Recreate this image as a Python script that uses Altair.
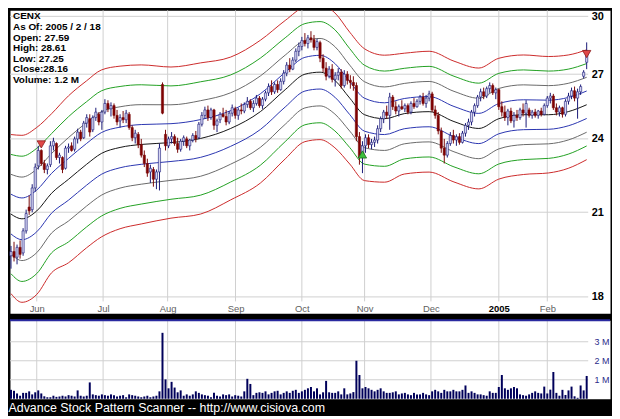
import altair as alt
import pandas as pd
import numpy as np

# ---------------- data ----------------
opens = [19.40,19.55,19.35,19.70,19.50,20.30,21.20,21.10,21.95,22.85,
         23.50,22.95,22.70,22.90,23.70,23.80,23.20,23.20,22.75,23.60,
         23.70,23.55,24.00,24.30,24.05,24.70,24.90,24.40,24.95,25.10,
         24.75,25.20,25.60,25.35,25.50,25.05,24.80,24.95,24.85,25.10,
         24.50,24.05,24.20,23.75,23.30,22.95,22.60,22.70,22.30,22.60,
         26.50,24.20,23.70,24.00,24.10,23.80,23.55,23.90,24.00,23.70,
         23.95,24.15,24.05,24.65,25.05,25.30,24.95,25.30,24.60,24.85,
         25.10,25.00,24.75,25.15,25.35,25.05,25.30,25.25,25.55,25.70,
         25.40,25.60,25.85,25.50,25.80,26.10,26.40,26.15,26.50,26.25,
         26.65,27.05,27.45,27.25,27.70,28.15,28.40,28.70,28.55,28.85,
         28.75,28.35,28.60,27.80,27.30,26.90,27.25,26.75,26.95,27.10,
         26.45,27.00,26.70,26.60,26.45,24.10,23.20,23.70,24.05,23.75,
         23.85,23.95,24.45,24.90,25.20,25.05,25.90,25.45,25.25,25.45,
         25.35,25.50,25.20,25.60,25.45,25.70,25.90,25.60,25.85,26.05,
         25.30,25.05,24.35,23.60,23.30,23.80,24.15,23.95,24.10,23.85,
         24.25,24.60,24.75,25.20,25.50,25.90,26.15,25.95,26.30,26.45,
         26.10,26.25,25.45,25.20,24.95,25.25,24.80,25.05,24.95,25.30,
         25.15,25.30,25.05,25.20,25.05,25.25,25.10,25.50,25.85,25.95,
         25.40,25.20,25.40,25.10,25.70,25.95,26.20,25.85,26.15,26.90,
         27.59]
highs = [19.75,19.90,19.80,19.95,20.40,21.10,21.65,22.10,22.95,23.70,
         23.55,23.10,22.95,23.90,24.05,23.85,23.40,23.25,23.70,23.80,
         23.85,24.10,24.45,24.40,24.80,25.10,25.10,25.05,25.40,25.20,
         25.30,25.80,25.75,25.65,25.60,25.30,25.10,25.25,25.30,25.20,
         24.60,24.40,24.30,24.00,23.50,23.15,22.90,22.80,22.70,23.80,
         26.60,24.40,24.10,24.30,24.20,24.05,24.00,24.15,24.10,24.00,
         24.25,24.35,24.75,25.20,25.45,25.50,25.40,25.35,24.90,25.20,
         25.40,25.30,25.25,25.55,25.45,25.40,25.60,25.65,25.90,25.80,
         25.75,26.00,25.95,25.90,26.20,26.55,26.70,26.60,26.70,26.80,
         27.20,27.60,27.80,27.85,28.30,28.60,28.90,29.10,29.00,29.20,
         29.00,28.80,28.70,28.00,27.60,27.40,27.50,27.10,27.30,27.25,
         27.20,27.15,26.95,26.90,26.60,24.30,23.90,24.20,24.20,24.00,
         24.10,24.60,25.00,25.30,25.50,26.10,26.00,25.70,25.55,25.75,
         25.60,25.60,25.70,25.85,25.80,26.00,26.10,26.00,26.20,26.15,
         25.50,25.20,24.50,24.00,23.90,24.30,24.40,24.20,24.25,24.35,
         24.70,24.90,25.30,25.60,26.00,26.30,26.35,26.40,26.60,26.55,
         26.35,26.30,25.70,25.50,25.35,25.40,25.20,25.30,25.40,25.60,
         25.75,25.40,25.30,25.35,25.30,25.40,25.60,25.95,26.10,26.05,
         25.60,25.50,25.45,25.80,26.10,26.35,26.40,26.30,26.50,27.20,
         28.61]
lows = [18.95,19.20,19.10,19.30,19.40,20.20,20.90,21.00,21.80,22.70,
        22.85,22.55,22.50,22.80,23.50,23.10,22.95,22.55,22.70,23.40,
        23.45,23.45,23.80,23.90,24.00,24.50,24.10,24.30,24.80,24.60,
        24.40,25.10,25.20,25.00,24.90,24.60,24.50,24.70,24.70,24.40,
        23.90,23.80,23.60,23.20,22.80,22.40,22.15,22.00,21.90,21.85,
        25.10,23.50,23.60,23.80,23.70,23.40,23.45,23.70,23.60,23.50,
        23.85,23.85,24.00,24.55,24.90,24.80,24.85,24.40,24.30,24.70,
        24.95,24.60,24.65,25.00,24.90,24.85,25.10,25.15,25.40,25.30,
        25.20,25.50,25.40,25.35,25.70,25.95,26.00,26.05,26.10,26.20,
        26.50,26.90,27.10,27.20,27.60,27.90,28.20,28.40,28.30,28.60,
        28.20,28.20,27.60,27.10,26.70,26.80,26.60,26.40,26.70,26.30,
        26.35,26.50,26.30,26.20,23.90,22.90,22.55,23.40,23.60,23.55,
        23.65,23.80,24.30,24.70,24.90,24.40,25.30,25.10,25.00,25.30,
        25.20,25.10,25.10,25.35,25.40,25.55,25.50,25.40,25.70,25.20,
        24.90,24.20,23.40,22.95,23.20,23.70,23.80,23.70,23.75,23.80,
        24.10,24.40,24.60,25.00,25.40,25.70,25.80,25.85,26.10,26.00,
        25.80,25.30,25.00,24.80,24.60,24.70,24.50,24.80,24.85,25.00,
        24.50,24.95,24.90,24.95,24.90,25.00,25.05,25.40,25.60,25.30,
        25.05,25.00,24.95,25.00,25.55,25.80,25.70,24.90,26.00,26.80,
        27.25]
closes = [19.55,19.35,19.70,19.45,20.30,20.95,21.05,21.95,22.80,23.50,
          22.95,22.70,22.85,23.70,23.90,23.20,23.30,22.70,23.60,23.65,
          23.50,24.00,24.30,24.00,24.70,24.95,24.30,24.95,25.20,24.75,
          25.20,25.60,25.35,25.50,25.05,24.75,24.95,24.85,25.15,24.50,
          24.05,24.25,23.75,23.30,22.95,22.55,22.75,22.30,22.60,23.60,
          25.15,23.70,24.00,24.10,23.80,23.55,23.90,24.05,23.70,23.95,
          24.15,24.00,24.65,25.05,25.30,24.95,25.30,24.60,24.80,25.10,
          25.00,24.75,25.15,25.40,25.05,25.30,25.25,25.55,25.70,25.40,
          25.60,25.85,25.50,25.80,26.10,26.40,26.15,26.50,26.25,26.65,
          27.05,27.45,27.25,27.70,28.15,28.40,28.70,28.55,28.85,28.75,
          28.35,28.65,27.80,27.30,26.90,27.25,26.75,26.95,27.10,26.45,
          27.00,26.70,26.60,26.45,24.10,23.20,23.70,24.05,23.75,23.85,
          23.95,24.45,24.90,25.20,25.05,25.90,25.45,25.25,25.45,25.35,
          25.50,25.20,25.60,25.45,25.70,25.90,25.60,25.85,26.05,25.30,
          25.05,24.35,23.60,23.30,23.80,24.15,23.95,24.10,23.85,24.25,
          24.60,24.75,25.20,25.50,25.90,26.15,25.95,26.30,26.45,26.10,
          26.25,25.45,25.20,24.95,25.25,24.80,25.05,24.95,25.30,25.15,
          25.60,25.05,25.20,25.05,25.25,25.10,25.50,25.85,25.95,25.40,
          25.20,25.40,25.10,25.70,25.95,26.20,25.85,26.15,26.40,27.10,
          28.16]
volumes_m = [0.47,0.42,0.28,0.16,0.31,0.31,0.39,0.23,0.34,0.44,
             0.28,0.13,0.08,0.08,0.16,0.10,0.12,0.16,0.12,0.19,
             0.16,0.12,0.44,0.16,0.12,0.16,0.86,0.23,0.19,0.16,
             0.23,0.19,0.16,0.23,0.19,0.12,0.16,0.19,0.08,0.23,
             0.19,0.16,0.12,0.08,0.12,0.16,0.08,0.12,0.16,0.39,
             3.47,1.02,0.55,0.89,0.59,0.34,0.44,0.16,0.23,0.16,
             0.23,0.39,0.31,0.23,0.19,0.16,0.08,0.31,0.16,0.12,
             0.23,0.19,0.23,0.12,0.19,0.16,0.12,0.39,1.05,0.78,
             0.19,0.31,0.34,0.31,0.39,0.23,0.31,0.39,0.42,0.23,
             0.31,0.39,0.31,0.42,0.47,0.31,0.39,0.47,0.55,0.62,
             0.39,0.55,0.23,0.34,0.94,0.34,0.31,0.31,0.39,0.23,
             0.55,0.23,0.28,0.35,2.00,1.25,0.55,0.62,0.55,0.47,
             0.39,0.47,0.55,0.39,0.31,0.31,0.34,0.39,0.23,0.28,
             0.31,0.23,0.19,0.31,0.23,0.23,0.31,0.23,0.19,0.39,
             0.47,0.39,0.31,0.47,0.39,0.39,0.47,0.39,0.39,0.47,
             0.70,0.31,0.39,0.31,0.23,0.23,0.19,0.16,0.39,0.31,
             0.31,0.62,1.25,0.55,0.47,0.55,0.62,0.55,0.23,0.19,
             0.16,0.23,0.31,0.39,0.31,0.28,0.64,0.28,0.48,1.41,
             0.31,0.16,0.47,0.20,0.44,0.64,0.13,0.05,0.70,0.44,
             1.20]

# envelope bands: centre line and band step (log units) at sample bars
band_pos = [0, 3.6, 8.5, 13.4, 19.0, 24.9, 29.8, 36.0, 43.0, 52.8, 62.6, 72.5, 82.3,
            90.5, 97.0, 102.0, 106.9, 111.8, 116.7, 123.3, 129.8, 138.0, 146.2, 154.4,
            161.0, 169.2, 177.4, 183.9, 190]
band_mid = [20.93, 20.75, 21.05, 21.74, 22.30, 22.91, 23.37, 23.63, 23.76, 23.84, 24.02,
            24.46, 25.22, 26.25, 27.00, 27.10, 26.70, 25.85, 25.08, 24.90, 25.13, 25.22,
            24.77, 24.46, 24.90, 25.08, 25.08, 25.22, 25.54]
band_step = [0.0362, 0.0380, 0.0380, 0.0362, 0.0380, 0.0380, 0.0380, 0.0370, 0.0362,
             0.0344, 0.0344, 0.0325, 0.0325, 0.0315, 0.0307, 0.0307, 0.0307, 0.0300,
             0.0300, 0.0289, 0.0275, 0.0275, 0.0275, 0.0275, 0.0275, 0.0272, 0.0265,
             0.0258, 0.0250]

signal_pos = [10, 116, 190]
signal_price = [23.76, 23.33, 28.01]
signal_kind = ["sell", "buy", "sell"]

price_ticks = [18, 21, 24, 27, 30]
vol_ticks = [1e6, 2e6, 3e6]
month_pos = [8.5, 30.4, 51.7, 74.1, 96.0, 116.7, 138.6, 161.0, 177.0]
month_names = ["Jun", "Jul", "Aug", "Sep", "Oct", "Nov", "Dec", "2005", "Feb"]

info_lines = ["CENX", "As Of: 2005 / 2 / 18", "Open: 27.59", "High: 28.61",
              "Low: 27.25", "Close:28.16", "Volume: 1.2 M"]
footer = "Advance Stock Pattern Scanner -- http://www.cisiova.com"

# ---------------- tables ----------------
N = len(closes)
df = pd.DataFrame({"i": list(range(N)), "open": opens, "high": highs, "low": lows,
                   "close": closes, "vol": [v * 1e6 for v in volumes_m]})
df["dir"] = np.where(df["close"] >= df["open"], "up", "down")

band_rows = []
for k in range(-4, 5):
    for p, m, s in zip(band_pos, band_mid, band_step):
        band_rows.append({"i": p, "k": str(k), "v": m * float(np.exp(k * s))})
bands = pd.DataFrame(band_rows)

signals = pd.DataFrame({"i": signal_pos, "p": signal_price, "kind": signal_kind})
ptick_df = pd.DataFrame({"p": price_ticks})
vtick_df = pd.DataFrame({"v": vol_ticks})
month_df = pd.DataFrame({"m": month_pos, "name": month_names})

# ---------------- scales / axes ----------------
FONT = "Liberation Sans"
xs = alt.Scale(domain=[-0.33, 197.7], nice=False, zero=False, padding=0)
ys = alt.Scale(type="log", domain=[17.47, 30.33], nice=False)
vs = alt.Scale(domain=[0, 4.13e6], nice=False)

pos_list = "[" + ",".join(str(v) for v in month_pos) + "]"
name_list = "[" + ",".join("'" + n + "'" for n in month_names) + "]"
xaxis = alt.Axis(values=month_pos, labelExpr=name_list + "[indexof(" + pos_list + ", datum.value)]",
                 orient="bottom", offset=-12, domain=False, ticks=False, grid=False,
                 labelPadding=2, labelFontSize=9.5, labelFont=FONT, title="",
                 labelColor={"condition": {"test": "datum.value == 161", "value": "#000000"}, "value": "#606060"},
                 labelFontWeight={"condition": {"test": "datum.value == 161", "value": "bold"}, "value": "normal"})
yaxis = alt.Axis(values=price_ticks, orient="right", offset=-21, domain=False, ticks=False,
                 grid=False, labelPadding=2, labelFontSize=11, labelFontWeight="bold",
                 labelColor="#000000", labelFont=FONT, title="")
vaxis = alt.Axis(values=vol_ticks, labelExpr="datum.value/1000000 + ' M'", orient="right",
                 offset=-20, labelAlign="right", labelPadding=19, domain=False, ticks=False,
                 grid=False, labelColor="#2a2a8a", labelFontSize=9, labelFont=FONT, title="")

GRID = "#d0d0d0"

# ---------------- price panel ----------------
hgrid = alt.Chart(ptick_df).mark_rule(color=GRID, strokeWidth=1).encode(
    y=alt.Y("p:Q", scale=ys, axis=yaxis),
    x=alt.X(datum=-0.33, scale=xs, axis=xaxis), x2=alt.X2(datum=190.5))
vgrid = alt.Chart(month_df).mark_rule(color=GRID, strokeWidth=1).encode(
    x=alt.X("m:Q", scale=xs, axis=xaxis), y=alt.value(0), y2=alt.value(293))

band_colors = ["#cc2a2a", "#22a022", "#6a6a6a", "#2a35b0", "#151515",
               "#2a35b0", "#6a6a6a", "#22a022", "#cc2a2a"]
band_lines = alt.Chart(bands).mark_line(strokeWidth=1, interpolate="monotone", clip=True).encode(
    x=alt.X("i:Q", scale=xs, axis=xaxis),
    y=alt.Y("v:Q", scale=ys, axis=yaxis),
    color=alt.Color("k:N", scale=alt.Scale(domain=[str(k) for k in range(4, -5, -1)], range=band_colors), legend=None),
    detail="k:N")

wick_scale = alt.Scale(domain=["up", "down"], range=["#1a1a78", "#7a0a0a"])
wicks = alt.Chart(df).mark_rule(strokeWidth=1).encode(
    x=alt.X("i:Q", scale=xs, axis=xaxis),
    y=alt.Y("low:Q", scale=ys, axis=yaxis), y2="high:Q",
    color=alt.Color("dir:N", scale=wick_scale, legend=None))
bodies = alt.Chart(df).mark_bar(size=2.2, strokeWidth=0.6).encode(
    x=alt.X("i:Q", scale=xs, axis=xaxis),
    y=alt.Y("open:Q", scale=ys, axis=yaxis), y2="close:Q",
    fill=alt.Fill("dir:N", scale=alt.Scale(domain=["up", "down"], range=["#d4d4f2", "#800000"]), legend=None),
    stroke=alt.Stroke("dir:N", scale=wick_scale, legend=None))

sig = alt.Chart(signals).mark_point(filled=True, size=70, strokeWidth=0.8, opacity=1).encode(
    x=alt.X("i:Q", scale=xs, axis=xaxis),
    y=alt.Y("p:Q", scale=ys, axis=yaxis),
    shape=alt.Shape("kind:N", scale=alt.Scale(domain=["sell", "buy"], range=["triangle-down", "triangle-up"]), legend=None),
    fill=alt.Fill("kind:N", scale=alt.Scale(domain=["sell", "buy"], range=["#e04848", "#3cc03c"]), legend=None),
    stroke=alt.Stroke("kind:N", scale=alt.Scale(domain=["sell", "buy"], range=["#8a1a1a", "#1a6a1a"]), legend=None))

info = alt.Chart(pd.DataFrame({"a": [0]})).mark_text(
    align="left", baseline="top", font=FONT, fontSize=10, fontWeight="bold",
    lineHeight=10.7, color="#000000").encode(
    x=alt.value(3), y=alt.value(1), text=alt.value(info_lines))

price = alt.layer(hgrid, vgrid, band_lines, wicks, bodies, sig, info).resolve_scale(
    color="independent", fill="independent", stroke="independent", shape="independent"
).properties(width=604, height=305)

# ---------------- volume panel ----------------
v_hgrid = alt.Chart(vtick_df).mark_rule(color=GRID, strokeWidth=1).encode(
    y=alt.Y("v:Q", scale=vs, axis=vaxis),
    x=alt.X(datum=-0.33, scale=xs, axis=None), x2=alt.X2(datum=190.5))
v_vgrid = alt.Chart(month_df).mark_rule(color=GRID, strokeWidth=1).encode(
    x=alt.X("m:Q", scale=xs, axis=None), y=alt.value(0), y2=alt.value(79))
v_bars = alt.Chart(df).mark_bar(size=2, color="#00005a").encode(
    x=alt.X("i:Q", scale=xs, axis=None),
    y=alt.Y("vol:Q", scale=vs, axis=vaxis))
v_top = alt.Chart(pd.DataFrame({"a": [0]})).mark_rule(color="#2a2aa0", strokeWidth=2).encode(
    x=alt.value(0), x2=alt.value(604), y=alt.value(0))

volume = alt.layer(v_hgrid, v_vgrid, v_bars, v_top).properties(width=604, height=79)

chart = alt.vconcat(price, volume, spacing=4).properties(
    padding={"left": 0, "top": 0, "right": 0, "bottom": 0},
    background="#000000",
    title=alt.TitleParams(footer, orient="bottom", anchor="start", color="#ffffff",
                          font=FONT, fontSize=12.5, fontWeight="normal", offset=2)
).configure_view(fill="#ffffff", stroke="transparent")

chart.save("out.html", embed_options={"renderer": "svg", "actions": False})
